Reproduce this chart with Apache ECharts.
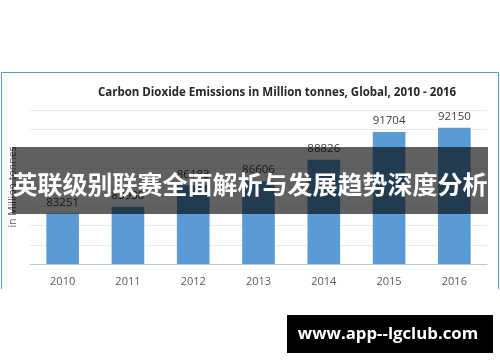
<!DOCTYPE html>
<html><head><meta charset="utf-8">
<script src="https://cdn.jsdelivr.net/npm/echarts@6/dist/echarts.min.js"></script>
<style>html,body{margin:0;padding:0;background:#fff}#c{width:500px;height:362px}</style>
</head><body><div id="c"></div>
<script>
const categories = ['2010','2011','2012','2013','2014','2015','2016'];
const emissions = [83251, 83930, 86183, 86606, 88826, 91704, 92150];
const titleText = 'Carbon Dioxide Emissions in Million tonnes, Global, 2010 - 2016';
const yAxisName = 'in Million tonnes';
const bannerText = '英联级别联赛全面解析与发展趋势深度分析';
const watermarkText = 'www.app--lgclub.com';

const chart = echarts.init(document.getElementById('c'), null, {renderer:'canvas'});
chart.setOption({
  animation:false,
  backgroundColor:'#fff',
  title:{text:titleText,left:272,top:82,textAlign:'center',
    textStyle:{fontFamily:'Open Sans',fontWeight:'bold',fontSize:11.5,color:'#262626'}},
  grid:{left:27,right:13,top:110,bottom:98},
  xAxis:{type:'category',data:categories,
    axisLine:{lineStyle:{color:'#b7c9e2',width:1}},
    axisTick:{show:false},
    axisLabel:{color:'#595959',fontFamily:'Open Sans',fontSize:11,margin:12}},
  yAxis:{type:'value',min:78000,max:94000,interval:2000,
    name:yAxisName,nameLocation:'middle',nameGap:11,nameRotate:90,
    nameTextStyle:{color:'#595959',fontFamily:'Open Sans',fontSize:10.5},
    axisLabel:{show:false},axisLine:{show:false},axisTick:{show:false},
    splitLine:{lineStyle:{color:'#ececec',width:1}}},
  series:[{type:'bar',data:emissions,barWidth:'50%',
    itemStyle:{color:'#5b9bd5'},
    label:{show:true,position:'top',distance:5,color:'#404040',fontFamily:'Open Sans',fontSize:11.5}}],
  graphic:[
    {type:'polyline',shape:{points:[[1.5,289],[1.5,72.5],[498.5,72.5],[498.5,289]]},
      style:{stroke:'#5b9bd5',lineWidth:1,fill:null},z:1},
    {type:'rect',shape:{x:12,y:147,width:476,height:67},style:{fill:'rgba(0,0,0,0.62)'},z:100},
    {type:'text',x:250,y:184,style:{text:bannerText,fill:'#fff',fontFamily:'Noto Sans CJK SC',
      fontWeight:'bold',fontSize:25,align:'center',verticalAlign:'middle'},z:101},
    {type:'rect',shape:{x:287,y:315,width:206,height:38},style:{fill:'#000'},z:100},
    {type:'text',x:388,y:334,style:{text:watermarkText,fill:'#fff',fontFamily:'Open Sans',
      fontWeight:'bold',fontSize:16.8,align:'center',verticalAlign:'middle'},z:101}
  ]
});
</script></body></html>
